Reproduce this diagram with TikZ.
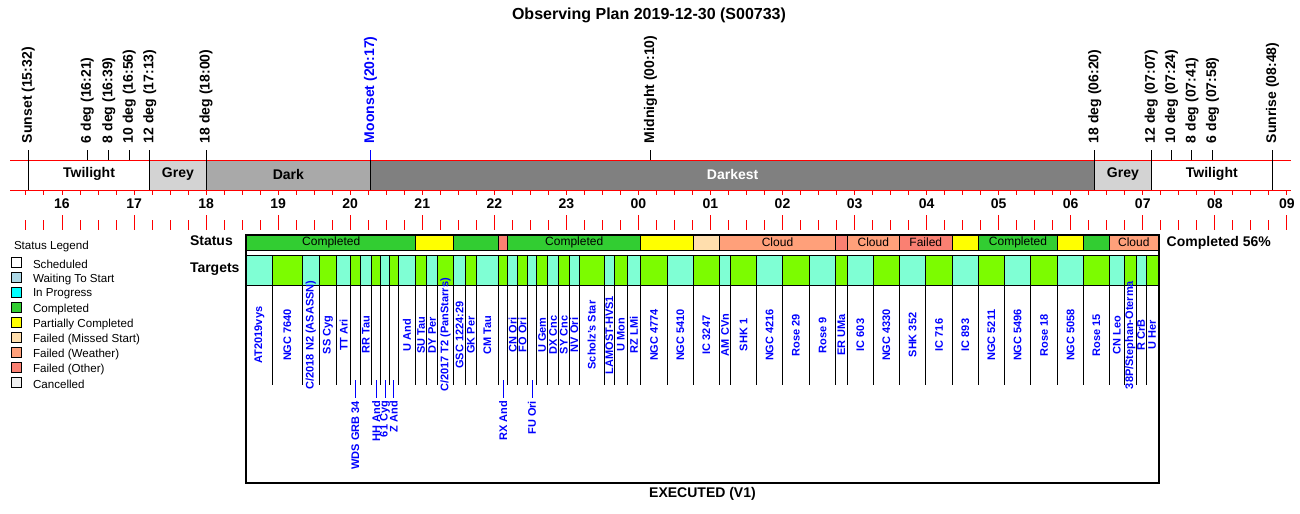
\documentclass[tikz,border=0pt]{standalone}
\usepackage{fontspec}
\setmainfont{Liberation Sans}
\usetikzlibrary{calc}

\definecolor{bandgrey}{HTML}{D3D3D3}
\definecolor{banddark}{HTML}{A9A9A9}
\definecolor{banddarkest}{HTML}{808080}
\definecolor{stcomp}{HTML}{32CD32}
\definecolor{stpart}{HTML}{FFFF00}
\definecolor{stmissed}{HTML}{FFDEAD}
\definecolor{stweather}{HTML}{FFA07A}
\definecolor{stother}{HTML}{FA8072}
\definecolor{legwait}{HTML}{ADD8E6}
\definecolor{legprog}{HTML}{00FFFF}
\definecolor{legcancel}{HTML}{F0F0F0}
\definecolor{tgtaqua}{HTML}{7FFFD4}
\definecolor{tgtgreen}{HTML}{7CFC00}

\tikzset{
  bigtxt/.style={font=\fontsize{10.5}{12}\selectfont\bfseries},
  evtlabel/.style={bigtxt, rotate=90, anchor=west},
  redtick/.style={red, line width=0.75pt},
  blackline/.style={black, line width=0.75pt},
  stseg/.style={draw=black, line width=0.75pt},
  sttext/.style={font=\fontsize{9}{10}\selectfont},
  tgtcell/.style={draw=black, line width=0.75pt},
  tgtlabel/.style={font=\fontsize{8.25}{9}\selectfont\bfseries, text=blue, rotate=90},
  lowlink/.style={blue, line width=0.75pt, shorten >=2.25pt},
  legbox/.style={draw=black, line width=0.75pt, minimum size=7.5pt},
  legtext/.style={font=\fontsize{8.7}{10}\selectfont, anchor=west},
  frame/.style={draw=black, line width=1.5pt}
}

\begin{document}
\begin{tikzpicture}[x=0.75pt, y=-0.75pt, every node/.style={inner sep=0pt, outer sep=0pt}]
\useasboundingbox (0,0) rectangle (1300,514);

\node[font=\fontsize{12}{14}\selectfont\bfseries] (title) at (649,15) {Observing Plan 2019-12-30 (S00733)};

% night bands
\foreach \ta/\tb/\f/\tc/\lab [count=\i] in {15.5333/17.2167/white/black/Twilight,
    17.2167/18/bandgrey/black/Grey, 18/20.2833/banddark/black/Dark,
    20.2833/30.3333/banddarkest/white/Darkest, 30.3333/31.1167/bandgrey/black/Grey,
    31.1167/32.8/white/black/Twilight} {
  \pgfmathsetmacro\xa{62+(\ta-16)*72.05}
  \pgfmathsetmacro\xb{62+(\tb-16)*72.05}
  \fill[\f] (\xa,160) rectangle (\xb,190);
  \node[bigtxt, text=\tc] (band\i) at ({(\xa+\xb)/2},174) {\lab};
}
\draw[redtick] (10,160) -- (1291,160);
\draw[redtick] (10,190) -- (1291,190);
\foreach \t in {15.5333,17.2167,18,20.2833,30.3333,31.1167,32.8}
  \draw[blackline] ({62+(\t-16)*72.05},160) -- ({62+(\t-16)*72.05},190);

% events
\foreach \t/\lab/\c [count=\i, evaluate=\t as \x using 62+(\t-16)*72.05] in {
    15.5333/Sunset (15:32)/black, 16.35/6 deg (16:21)/black, 16.65/8 deg (16:39)/black,
    16.9333/10 deg (16:56)/black, 17.2167/12 deg (17:13)/black, 18/18 deg (18:00)/black,
    20.2833/Moonset (20:17)/blue, 24.1667/Midnight (00:10)/black, 30.3333/18 deg (06:20)/black,
    31.1167/12 deg (07:07)/black, 31.4/10 deg (07:24)/black, 31.6833/8 deg (07:41)/black,
    31.9667/6 deg (07:58)/black, 32.8/Sunrise (08:48)/black} {
  \draw[\c, line width=0.75pt] (\x,160) -- (\x,150);
  \node[evtlabel, text=\c] (ev\i) at (\x,143) {\lab};
}

% time axis
\foreach \q in {0,...,70} {
  \draw[redtick] ({25.975+\q*18.0125},190) -- ++(0,5);
  \draw[redtick] ({25.975+\q*18.0125},220) -- ++(0,10);
}
\foreach \lab [count=\k from 0] in {16,17,18,19,20,21,22,23,00,01,02,03,04,05,06,07,08,09} {
  \node[bigtxt] (hr\k) at ({62+\k*72.05},204) {\lab};
  \draw[redtick] ({62+\k*72.05},215) -- ++(0,5);
}

% legend
\node[legtext] (legtitle) at (14,246) {Status Legend};
\foreach \c/\lab [count=\i, evaluate=\i as \y using 247+\i*15] in {white/Scheduled,
    legwait/Waiting To Start, legprog/In Progress, stcomp/Completed,
    stpart/Partially Completed, stmissed/Failed (Missed Start), stweather/Failed (Weather),
    stother/Failed (Other), legcancel/Cancelled} {
  \node[legbox, fill=\c] (lb\i) at (16.7,\y) {};
  \node[legtext] (lt\i) at (33,{\y+2}) {\lab};
}

\node[bigtxt, anchor=west] (statuslab) at (190,241) {Status};
\node[bigtxt, anchor=west] (targetslab) at (190,269.5) {Targets};
\node[bigtxt, anchor=west] (done) at (1166.7,242.5) {Completed 56\%};

% status row
\foreach \a/\b/\c/\lab [count=\i] in {246.7/415.7/stcomp/Completed, 415.7/453.3/stpart/{},
    453.3/498.7/stcomp/{}, 498.7/507.7/stother/{}, 507.7/640.7/stcomp/Completed,
    640.7/693.3/stpart/{}, 693.3/719.3/stmissed/{}, 719.3/835.7/stweather/Cloud,
    835.7/847.3/stother/{}, 847.3/899.3/stweather/Cloud, 899.3/952.3/stother/Failed,
    952.3/978.3/stpart/{}, 978.3/1057.7/stcomp/Completed, 1057.7/1083.3/stpart/{},
    1083.3/1109.3/stcomp/{}, 1109.3/1158.3/stweather/Cloud} {
  \draw[stseg, fill=\c] (\a,235) rectangle (\b,250);
  \node[sttext] (st\i) at ({(\a+\b)/2},242.5) {\lab};
}

% targets
\foreach \a/\b/\p/\lab [count=\i] in {246.7/272.3/c/AT2019vys, 272.3/302.3/c/NGC 7640,
    302.3/319.3/c/{C/2018 N2 (ASASSN)}, 319.3/336.7/c/SS Cyg, 336.7/350.7/c/TT Ari,
    350.7/360/l/WDS GRB 34, 360/371.7/c/RR Tau, 371.7/380.7/l/HH And,
    380.7/389.3/l/61 Cyg, 389.3/398.3/l/Z And, 398.3/415.7/c/U And,
    415.7/426.7/c/SU Tau, 426.7/437.7/c/DY Per, 437.7/453.3/c/{C/2017 T2 (PanStarrs)},
    453.3/465.7/c/GSC 1224:29, 465.7/476/c/GK Per, 476/498.7/c/CM Tau,
    498.7/507.7/l/RX And, 507.7/517.7/c/CN Ori, 517.7/527.3/c/FO Ori,
    527.3/536.7/l/FU Ori, 536.7/547.7/c/U Gem, 547.7/558.3/c/DX Cnc,
    558.3/569.3/c/SY Cnc, 569.3/579.3/c/NV Ori, 579.3/604.3/c/Scholz's Star,
    604.3/614.3/c/LAMOST-HVS1, 614.3/627.3/c/U Mon, 627.3/640.7/c/RZ LMi,
    640.7/667.3/c/NGC 4774, 667.3/693.3/c/NGC 5410, 693.3/719.3/c/IC 3247,
    719.3/730.7/c/AM CVn, 730.7/756.7/c/SHK 1, 756.7/782.3/c/NGC 4216,
    782.3/809.3/c/Rose 29, 809.3/835.7/c/Rose 9, 835.7/847.3/c/ER UMa,
    847.3/873.3/c/IC 603, 873.3/899.3/c/NGC 4330, 899.3/925.7/c/SHK 352,
    925.7/952.3/c/IC 716, 952.3/978.3/c/IC 893, 978.3/1004.3/c/NGC 5211,
    1004.3/1030.7/c/NGC 5496, 1030.7/1057.7/c/Rose 18, 1057.7/1083.3/c/NGC 5058,
    1083.3/1109.3/c/Rose 15, 1109.3/1124.3/c/CN Leo, 1124.3/1136/c/{38P/Stephan-Oterma},
    1136/1146/c/R CrB, 1146/1158.3/c/U Her} {
  \ifodd\i \def\cellc{tgtaqua}\else\def\cellc{tgtgreen}\fi
  \draw[tgtcell, fill=\cellc] (\a,255) rectangle (\b,285);
  \draw[blackline] (\a,285) -- (\a,385);
  \if l\p
    \coordinate (lk\i) at ({(\a+\b)/2},380);
    \node[tgtlabel, anchor=east] (tg\i) at ({(\a+\b)/2},401) {\lab};
    \draw[lowlink] (lk\i) -- (tg\i.east);
  \else
    \node[tgtlabel] (tg\i) at ({(\a+\b)/2},335) {\lab};
  \fi
}

\draw[frame] (246.3,235) rectangle (1159,483);
\node[bigtxt] (version) at (702.5,494) {EXECUTED (V1)};
\end{tikzpicture}
\end{document}
